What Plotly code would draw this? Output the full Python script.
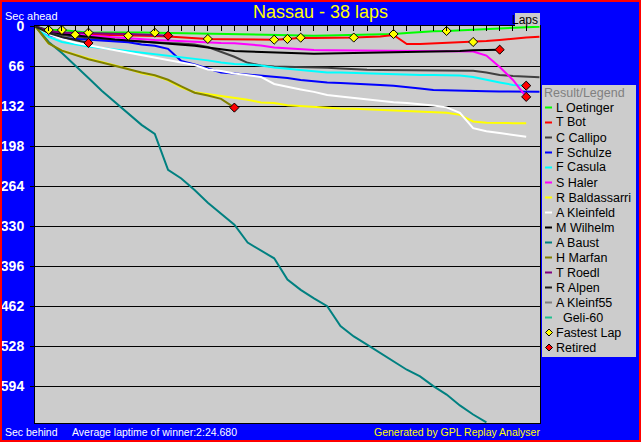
import plotly.graph_objects as go

# Race data: gap to the winner's average pace (seconds) after each lap
laps = list(range(39))

drivers = ["L Oetinger", "T Bot", "C Callipo", "F Schulze", "F Casula", "S Haler",
           "R Baldassarri", "A Kleinfeld", "M Wilhelm", "A Baust", "H Marfan",
           "T Roedl", "R Alpen", "A Kleinf55", "\u00a0\u00a0Geli-60"]
colors = ["#00FF00", "#FF0000", "#404040", "#0000FF", "#00FFFF", "#FF00FF",
          "#FFFF00", "#FFFFFF", "#000000", "#008080", "#808000",
          "#800080", "#202020", "#808080", "#20C090"]

oetinger = [0, 5.8, 5.8, 7.4, 10.2, 9.9, 9.6, 9.6, 9.9, 10.2, 10.7, 11.2, 11.7, 12.0, 12.4,
            12.9, 13.5, 14.4, 14.8, 15.2, 15.2, 15.2, 14.8, 14.5, 14.0, 13.5, 12.9, 12.4,
            10.7, 9.1, 7.9, 7.4, 6.3, 5.3, 4.1, 3.0, 2.1, 1.3, 0.3]
bot = [0, 8.3, 11.6, 13.5, 13.2, 13.5, 14.0, 15.2, 15.5, 15.9, 16.5, 18.2, 19.5, 20.6, 20.9,
       21.1, 21.5, 21.8, 21.8, 20.6, 18.5, 19.0, 19.0, 18.6, 18.3, 17.3, 16.5, 14.0,
       28.9, 28.9, 28.0, 27.7, 26.7, 25.6, 23.9, 22.3, 19.8, 18.2, 16.8]
callipo = [0, 9.0, 14.0, 17.3, 19.8, 21.5, 22.8, 24.0, 25.2, 26.4, 27.2, 28.0, 29.7, 34.0,
           42.0, 50.0, 60.0, 64.4, 66.0, 66.3, 66.5, 66.8, 68.1, 69.3, 71.0, 71.5, 71.8,
           72.1, 72.6, 72.6, 72.8, 72.9, 72.9, 73.0, 76.0, 80.0, 81.7, 83.3, 83.8]
schulze = [0, 14.0, 19.0, 20.6, 21.5, 23.0, 24.8, 26.0, 29.7, 32.0, 37.0, 57.0, 62.7, 69.3,
           76.0, 77.5, 79.2, 80.5, 82.5, 85.0, 88.3, 90.8, 92.4, 93.2, 94.0, 95.0, 96.5,
           98.0, 99.8, 102.3, 104.8, 105.6, 106.4, 106.4, 107.0, 107.3, 107.6, 107.7, 108.0]
casula = [0, 17.3, 25.6, 29.7, 33.0, 35.5, 38.0, 40.4, 43.0, 45.4, 47.9, 50.3, 53.3, 56.0,
          59.4, 62.0, 62.7, 64.4, 67.7, 70.0, 72.6, 74.3, 76.0, 76.0, 76.7, 77.5, 78.4,
          78.4, 79.2, 80.0, 80.0, 80.0, 81.0, 83.3, 88.3, 92.4, 96.5, 97.7]
haler = [0, 7.4, 10.7, 13.2, 14.8, 16.5, 18.2, 19.8, 21.5, 22.3, 23.0, 24.3, 25.6, 26.4,
         27.2, 27.7, 29.2, 31.4, 34.6, 36.3, 38.0, 38.8, 39.1, 39.3, 39.3, 39.6, 39.8,
         40.1, 40.3, 40.4, 40.8, 40.9, 40.9, 41.3, 48.0, 67.0, 88.3, 116.3]
baldassarri = [0, 28, 40, 47, 53, 58.5, 64, 70, 77.5, 81.5, 89, 101, 108.5, 111.5, 114.5,
               117, 121, 125.5, 126.5, 130, 131.5, 133.6, 134.5, 135.6, 136, 137, 137.8,
               138.6, 139.4, 140.6, 142, 142.7, 146, 156.8, 159, 159.7, 159.7, 159.7]
kleinfeld = [0, 12.4, 20.6, 27, 31, 35, 38.8, 43, 47, 51, 55, 59.4, 63.5, 71, 73.4, 77.5,
             80, 83.3, 95, 100, 104, 108, 113, 115.5, 118, 120.5, 123, 125, 126.5, 128,
             130.7, 133.6, 142.7, 168, 173, 176, 179, 182]
wilhelm = [0, 7.4, 12.4, 14.8, 17.3, 19.0, 21.5, 23.0, 24.8, 26.4, 27.7, 29.7, 32.0, 34.6,
           38.0, 40.4, 41.3, 42.0, 43.2, 43.7, 44.2, 44.9, 44.6, 44.2, 43.7, 43.5, 43.0,
           42.5, 42.2, 42.0, 41.8, 41.6, 40.5, 39.2, 38.8, 38.3]
baust = [0, 25.6, 43.7, 63.5, 85, 106, 124.6, 142.7, 162.5, 177.4, 236.8, 251, 270, 291,
         309, 327.5, 357, 370, 383, 418, 435, 449, 462, 495, 512, 525.5, 539.5, 553.6,
         567, 578, 594, 608, 626, 641, 654]
marfan = [0, 28, 40, 47.5, 54, 59.5, 65, 71, 76, 80.5, 88, 99, 109.5, 114, 119.5, 134]
roedl = [0, 7.4, 9.9, 10.7, 11.2, 11.6, 11.9, 12.4, 12.9, 14.0, 15.2]
alpen = [0, 10.7, 17.3, 22.3, 27.2]
kleinf55 = []
geli = []

gaps = [oetinger, bot, callipo, schulze, casula, haler, baldassarri, kleinfeld,
        wilhelm, baust, marfan, roedl, alpen, kleinf55, geli]

# (driver index, lap) where a new fastest lap was set
fastest_laps = [(0, 1), (0, 2), (1, 3), (0, 4), (1, 7), (0, 9), (1, 13), (1, 18),
                (1, 19), (1, 20), (1, 24), (0, 27), (0, 31), (1, 33)]
retired = [12, 11, 10, 8, 4, 5]

FONT = "Liberation Sans, Arial, sans-serif"


# pixel -> paper helpers for the decorations around the plot
def px_x(px):
    return (px - 35) / 505


def px_y(py):
    return (423 - py) / 397


def diamond(cx, cy, r=3.5):
    return (f"M {px_x(cx - r)},{px_y(cy)} L {px_x(cx)},{px_y(cy - r)} "
            f"L {px_x(cx + r)},{px_y(cy)} L {px_x(cx)},{px_y(cy + r)} Z")


fig = go.Figure()
for name, color, gap in zip(drivers, colors, gaps):
    fig.add_trace(go.Scatter(x=laps[:len(gap)], y=gap, mode="lines", name=name,
                             line=dict(color=color, width=2), showlegend=False))

fig.add_trace(go.Scatter(
    x=[lap for d, lap in fastest_laps], y=[gaps[d][lap] for d, lap in fastest_laps],
    mode="markers", name="Fastest Lap", showlegend=False,
    marker=dict(symbol="diamond", size=7, color="#FFFF00", line=dict(color="black", width=1))))
fig.add_trace(go.Scatter(
    x=[len(gaps[d]) - 1 for d in retired], y=[gaps[d][-1] for d in retired],
    mode="markers", name="Retired", showlegend=False,
    marker=dict(symbol="diamond", size=7, color="#FF0000", line=dict(color="black", width=1))))

shapes = []
annotations = []

# legend box
shapes.append(dict(type="rect", xref="paper", yref="paper", x0=px_x(542), x1=px_x(636),
                   y0=px_y(357), y1=px_y(85), fillcolor="#CCCCCC", line=dict(width=0)))
annotations.append(dict(text="Result/Legend", x=px_x(543), y=px_y(93), xanchor="left",
                        font=dict(color="#808080", size=12.5, family=FONT)))
for i, (name, color) in enumerate(zip(drivers, colors)):
    yy = px_y(107.5 + 15 * i)
    shapes.append(dict(type="line", xref="paper", yref="paper", x0=px_x(545), x1=px_x(552),
                       y0=yy, y1=yy, line=dict(color=color, width=2)))
    annotations.append(dict(text=name, x=px_x(555), y=yy, xanchor="left",
                            font=dict(color="black", size=12.5, family=FONT)))
for j, (name, color) in enumerate([("Fastest Lap", "#FFFF00"), ("Retired", "#FF0000")]):
    cy = 107.5 + 15 * (len(drivers) + j)
    shapes.append(dict(type="path", xref="paper", yref="paper", path=diamond(549, cy),
                       fillcolor=color, line=dict(color="black", width=1)))
    annotations.append(dict(text=name, x=px_x(555), y=px_y(cy), xanchor="left",
                            font=dict(color="black", size=12.5, family=FONT)))

# "Laps" tag at top right
shapes.append(dict(type="rect", xref="paper", yref="paper", x0=px_x(515), x1=px_x(540),
                   y0=px_y(26), y1=px_y(13), fillcolor="#CCCCCC", line=dict(width=0)))
annotations.append(dict(text="Laps", x=px_x(539), y=px_y(19.5), xanchor="right",
                        font=dict(color="black", size=12, family=FONT)))

annotations.append(dict(text="Nassau - 38 laps", x=px_x(320), y=px_y(12), xanchor="center",
                        font=dict(color="#FFFF00", size=18, family=FONT)))
annotations.append(dict(text="Sec ahead", x=px_x(31), y=px_y(16), xanchor="center",
                        font=dict(color="white", size=11, family=FONT)))
annotations.append(dict(text="Sec behind", x=px_x(31.5), y=px_y(432), xanchor="center",
                        font=dict(color="white", size=10.5, family=FONT)))
annotations.append(dict(text="Average laptime of winner:2:24.680", x=px_x(154), y=px_y(432),
                        xanchor="center", font=dict(color="white", size=10.5, family=FONT)))
annotations.append(dict(text="Generated by GPL Replay Analyser", x=px_x(541), y=px_y(432),
                        xanchor="right", font=dict(color="#FFFF00", size=10.5, family=FONT)))

for a in annotations:
    a.update(xref="paper", yref="paper", yanchor="middle", showarrow=False, borderpad=0)

# red outer frame
shapes.append(dict(type="rect", xref="paper", yref="paper", x0=px_x(1), x1=px_x(640),
                   y0=px_y(441), y1=px_y(1), line=dict(color="#FF0000", width=2)))

fig.update_layout(
    width=641, height=442,
    margin=dict(l=35, r=101, t=26, b=19),
    paper_bgcolor="#0000FF", plot_bgcolor="#CCCCCC",
    showlegend=False, shapes=shapes, annotations=annotations,
)
fig.update_xaxes(range=[-0.03, 38.04], side="top", tick0=0, dtick=1, ticks="inside",
                 ticklen=5, tickcolor="black", showticklabels=False, showgrid=False,
                 zeroline=False, showline=True, linecolor="black", linewidth=1, mirror=True,
                 automargin=False)
fig.update_yaxes(range=[655, -0.8], tick0=0, dtick=66, ticks="outside", ticklen=4,
                 ticklabelstandoff=3, automargin=False,
                 tickcolor="black", tickfont=dict(family=FONT, size=14, color="white", weight="bold"),
                 showgrid=True, gridcolor="black", gridwidth=1, zeroline=False,
                 showline=True, linecolor="black", linewidth=1, mirror=True)

# page body has a default margin; drop it so the figure fills the window
fig.write_html("out.html", config={"displayModeBar": False},
               post_script="document.body.style.margin='0';")
